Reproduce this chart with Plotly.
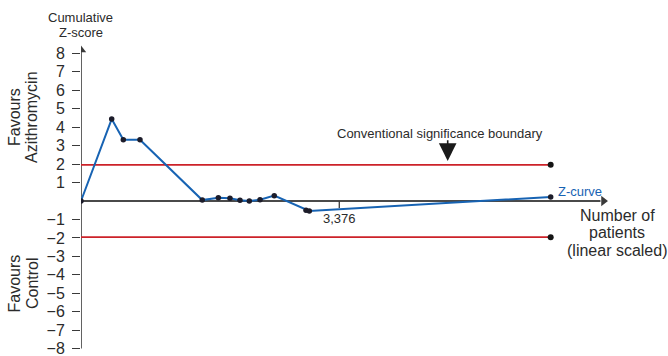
import plotly.graph_objects as go

# Cumulative Z-curve (trial sequential style) — azithromycin vs control
patients = [0, 401, 553, 771, 1585, 1795, 1947, 2078, 2200, 2340, 2526, 2941, 2984, 6139]
z_scores = [0, 4.44, 3.32, 3.32, 0.05, 0.18, 0.15, 0.04, 0.0, 0.07, 0.29, -0.50, -0.54, 0.22]

boundary_z = 1.96          # conventional two-sided significance
total_patients = 6139      # end of the boundary lines
marked_patients = 3376     # labelled tick on the x axis
y_tick_values = [-8, -7, -6, -5, -4, -3, -2, -1, 1, 2, 3, 4, 5, 6, 7, 8]

W, H = 668, 356
L, R, T, B = 81, 48, 41, 3
X_MAX = 7045
Y_RANGE = [-8.238, 8.672]

AX_COL = "#3a3a3a"
TXT_COL = "#2b2b2b"
RED = "#cc2229"
BLUE = "#1763b3"
FONT = "Arial, Liberation Sans, sans-serif"


def px_x(p):
    return (p - L) / (W - L - R)


def px_y(p):
    return (H - B - p) / (H - T - B)


fig = go.Figure()

# significance boundaries
for zb in (boundary_z, -boundary_z):
    fig.add_trace(go.Scatter(
        x=[0, total_patients], y=[zb, zb], mode="lines",
        line=dict(color=RED, width=1.6),
        hoverinfo="skip", showlegend=False,
    ))
fig.add_trace(go.Scatter(
    x=[total_patients, total_patients], y=[boundary_z, -boundary_z], mode="markers",
    marker=dict(color="#151515", size=6, line=dict(width=0)),
    hoverinfo="skip", showlegend=False,
))

# axis arrowheads
fig.add_trace(go.Scatter(
    x=[0], y=[8.18], mode="markers",
    marker=dict(symbol="triangle-up", size=9, color=AX_COL, line=dict(width=0)),
    hoverinfo="skip", showlegend=False,
))
fig.add_trace(go.Scatter(
    x=[6829], y=[0], mode="markers",
    marker=dict(symbol="triangle-right", size=9, color=AX_COL, line=dict(width=0)),
    hoverinfo="skip", showlegend=False,
))

# Z-curve
fig.add_trace(go.Scatter(
    x=patients, y=z_scores, mode="lines+markers",
    line=dict(color=BLUE, width=2),
    marker=dict(color="#1c1c2a", size=5.5, line=dict(width=0)),
    showlegend=False,
))

shapes = [
    dict(type="line", xref="x", yref="y", x0=0, x1=6790, y0=0, y1=0,
         line=dict(color="#4a4a4a", width=2.2), layer="below"),
    dict(type="line", xref="x", yref="y", x0=0, x1=0, y0=-8, y1=8.1,
         line=dict(color=AX_COL, width=1.6), layer="below"),
    dict(type="line", xref="x", yref="y", x0=marked_patients, x1=marked_patients,
         y0=0, y1=-0.38, line=dict(color=AX_COL, width=1.3), layer="below"),
]

annotations = [
    dict(x=marked_patients, y=-0.95, xref="x", yref="y", text="3,376",
         showarrow=False, font=dict(size=13, color=TXT_COL), xanchor="center", yanchor="middle"),
    dict(x=4688, y=3.64, xref="x", yref="y", text="Conventional significance boundary",
         showarrow=False, font=dict(size=13, color=TXT_COL), xanchor="center", yanchor="middle"),
    dict(x=4793, y=2.17, ax=4793, ay=3.38, xref="x", yref="y", axref="x", ayref="y",
         text="", showarrow=True, arrowhead=2, arrowsize=2.2, arrowwidth=1.6,
         arrowcolor="#1a1a1a"),
    dict(x=px_x(556), y=px_y(191.5), xref="paper", yref="paper", text="Z-curve",
         showarrow=False, font=dict(size=13, color=BLUE), xanchor="left", yanchor="middle"),
    dict(x=px_x(80.5), y=px_y(17.5), xref="paper", yref="paper", text="Cumulative",
         showarrow=False, font=dict(size=13, color=TXT_COL), xanchor="center", yanchor="middle"),
    dict(x=px_x(80.5), y=px_y(32.7), xref="paper", yref="paper", text="Z-score",
         showarrow=False, font=dict(size=13, color=TXT_COL), xanchor="center", yanchor="middle"),
]

for txt, yc in (("Number of", 215), ("patients", 232.5), ("(linear scaled)", 250.5)):
    annotations.append(dict(
        x=px_x(617), y=px_y(yc), xref="paper", yref="paper", text=txt,
        showarrow=False, font=dict(size=16, color=TXT_COL), xanchor="center", yanchor="middle"))

for txt, xc, yc in (("Favours", 14, 117), ("Azithromycin", 31, 117),
                    ("Favours", 14, 283.5), ("Control", 32, 283)):
    annotations.append(dict(
        x=px_x(xc), y=px_y(yc), xref="paper", yref="paper", text=txt, textangle=-90,
        showarrow=False, font=dict(size=16, color=TXT_COL), xanchor="center", yanchor="middle"))

fig.update_layout(
    width=W, height=H,
    margin=dict(l=L, r=R, t=T, b=B, pad=0, autoexpand=False),
    paper_bgcolor="white", plot_bgcolor="white",
    font=dict(family=FONT, color=TXT_COL),
    xaxis=dict(range=[0, X_MAX], visible=False, fixedrange=True, automargin=False),
    yaxis=dict(range=Y_RANGE, showgrid=False, zeroline=False, showline=False,
               automargin=False,
               tickmode="array", tickvals=y_tick_values,
               ticktext=[str(v).replace("-", "\u2212") for v in y_tick_values],
               ticks="outside", ticklen=8, tickwidth=1.4, tickcolor=AX_COL,
               ticklabelstandoff=4, ticklabeloverflow="allow",
               tickfont=dict(size=16, color=TXT_COL), fixedrange=True),
    shapes=shapes, annotations=annotations,
    showlegend=False,
)

fig.write_html("out.html")
